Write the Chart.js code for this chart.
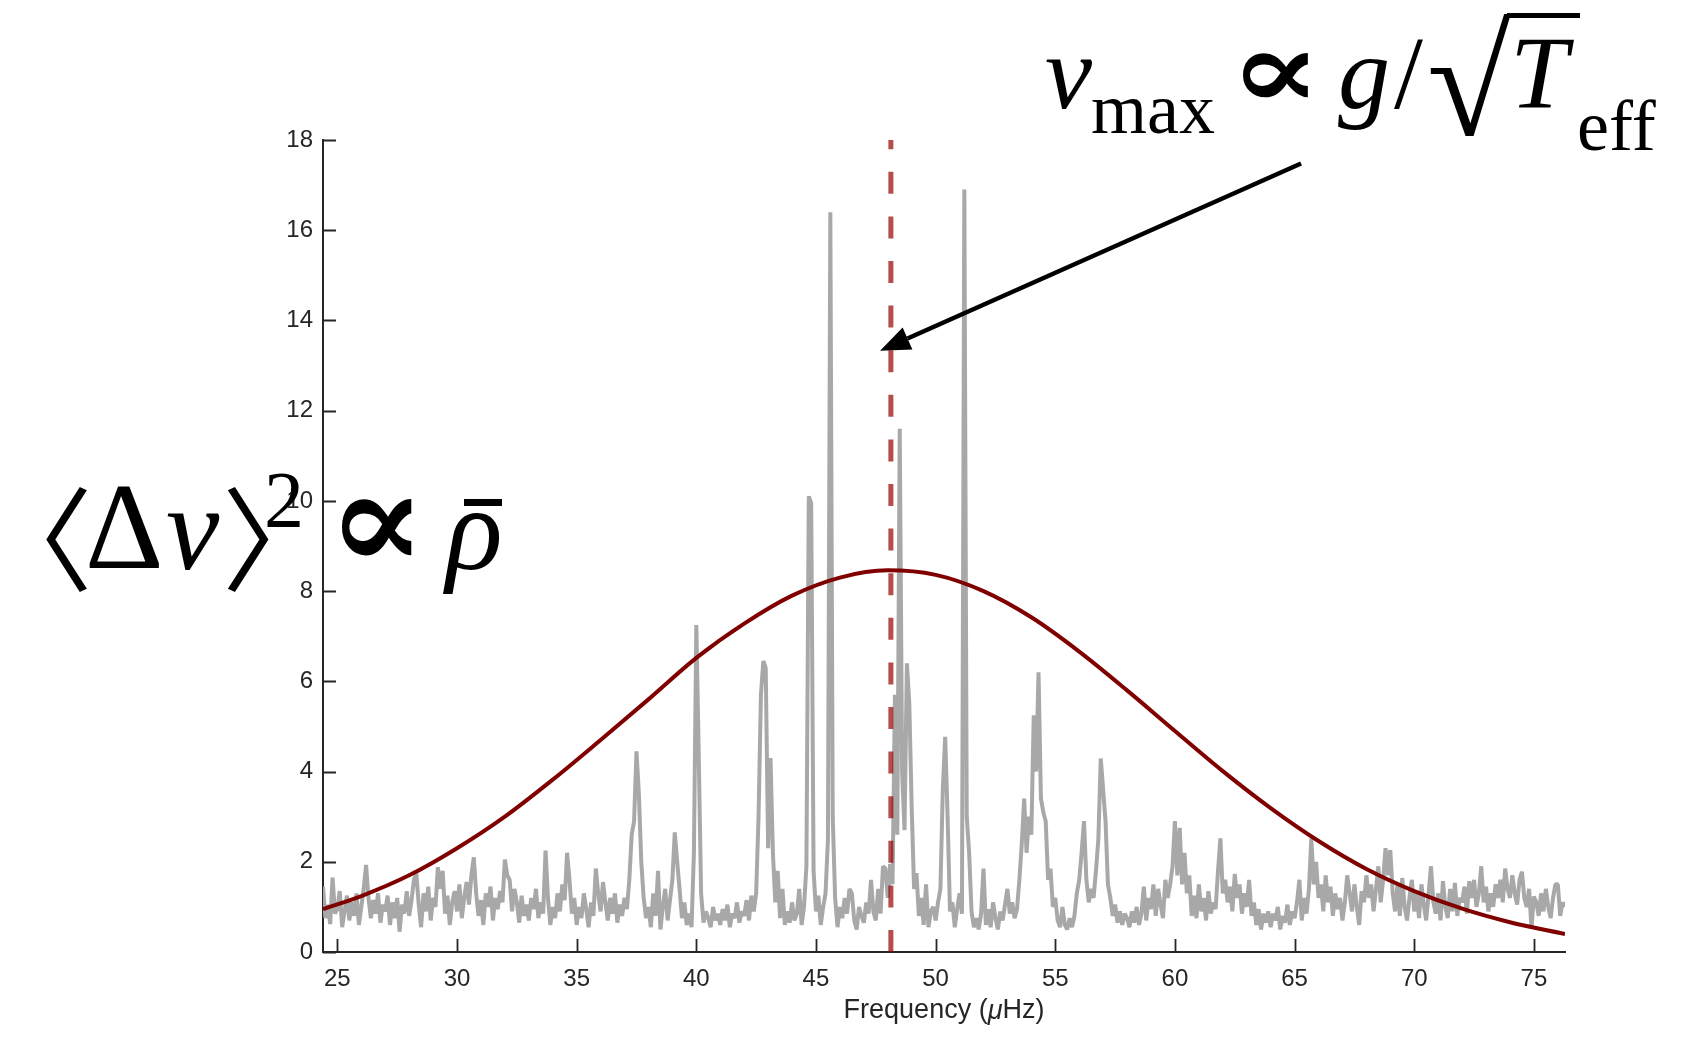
<!DOCTYPE html>
<html>
<head>
<meta charset="utf-8">
<title>Power spectrum with nu_max</title>
<script src="https://cdn.jsdelivr.net/npm/chart.js"></script>
<style>
  html, body { margin: 0; padding: 0; background: #fff; }
  #wrap { position: relative; width: 1692px; height: 1037px; }
</style>
</head>
<body>
<div id="wrap"><canvas id="spectrumChart"></canvas></div>
<script>
// frequency grid of the spectrum (muHz)
const freqStart = 24.4;
const freqStep = 0.1;

// smoothed power spectrum, one row per muHz
const power = [
  1.45, 0.75, 1.05, 0.62, 1.65, 0.85,
  0.95, 1.35, 0.55, 0.9, 1.25, 0.7, 1.1, 0.8, 1.3, 0.6,
  1.0, 1.4, 1.93, 1.2, 0.75, 1.15, 0.85, 1.3, 0.65, 1.05,
  0.9, 1.25, 0.6, 1.1, 0.75, 1.2, 0.45, 1.05, 0.85, 1.35,
  0.8, 1.15, 1.6, 1.74, 1.05, 0.55, 1.3, 0.9, 1.45, 0.7,
  1.2, 1.0, 1.88, 1.4, 1.8, 0.85, 1.25, 0.6, 1.1, 1.35,
  0.9, 1.5, 0.75, 1.2, 1.55, 1.05, 1.7, 2.1, 1.3, 0.8,
  1.15, 0.6, 1.3, 1.0, 1.45, 0.7, 1.2, 0.95, 1.35, 1.1,
  2.05, 1.7, 1.6, 0.9, 1.4, 1.1, 0.65, 1.25, 0.8, 1.05,
  0.7, 1.2, 0.95, 1.4, 0.75, 1.1, 0.85, 2.25, 1.2, 0.6,
  1.0, 0.75, 1.3, 0.9, 1.5, 1.15, 2.2, 1.6, 0.85, 1.2,
  0.6, 1.0, 0.75, 1.3, 0.95, 0.55, 1.1, 0.8, 1.85, 1.3,
  0.9, 1.55, 1.1, 0.7, 1.2, 0.85, 1.3, 0.65, 1.05, 0.8,
  1.2, 0.95, 1.6, 2.6, 2.9, 4.45, 3.5, 2.0, 1.2, 0.75,
  1.0, 0.55, 1.3, 0.8, 1.8, 0.5, 1.0, 1.4, 0.7, 1.15,
  1.6, 2.65, 2.0, 1.4, 0.75, 1.1, 0.6, 0.85, 0.55, 2.2,
  7.25, 4.4, 1.3, 0.65, 0.9, 0.75, 0.55, 1.0, 0.7, 0.85,
  0.6, 0.95, 0.7, 1.05, 0.55, 0.85, 0.75, 1.1, 0.65, 0.9,
  0.8, 1.15, 0.7, 1.25, 0.9, 1.3, 3.0, 5.7, 6.45, 6.3,
  2.3, 4.3, 2.2, 1.1, 1.8, 0.75, 1.4, 0.6, 0.9, 0.65,
  1.1, 0.7, 0.85, 1.4, 0.6, 1.0, 1.9, 10.1, 9.95, 1.8,
  0.9, 1.25, 0.6, 1.0, 1.3, 2.5, 16.4, 3.0, 1.2, 0.55,
  1.0, 0.75, 1.2, 0.85, 1.4, 1.3, 0.7, 0.5, 1.0, 0.8,
  0.65, 1.1, 0.85, 1.6, 0.9, 0.7, 1.4, 0.85, 1.9, 1.85,
  1.2, 1.95, 1.5, 5.7, 2.6, 11.6, 4.0, 2.7, 6.4, 5.5,
  3.2, 1.4, 1.75, 0.8, 1.2, 0.6, 1.5, 0.55, 0.9, 1.0,
  0.7, 1.1, 1.4, 3.6, 4.77, 3.0, 0.9, 1.1, 0.55, 0.95,
  1.3, 0.85, 16.9, 3.0, 2.2, 0.9, 0.55, 0.75, 0.5, 0.85,
  1.85, 0.6, 0.95, 0.55, 1.1, 0.75, 0.5, 0.9, 0.7, 1.05,
  1.4, 0.85, 1.1, 0.75, 0.95, 1.6, 2.4, 3.4, 2.2, 3.0,
  2.6, 5.25, 4.0, 6.2, 3.4, 3.1, 2.9, 1.6, 1.85, 1.0,
  1.2, 0.7, 0.55, 1.0, 0.6, 0.5, 0.75, 0.55, 0.8, 1.3,
  1.6, 2.2, 2.9, 1.6, 1.1, 1.4, 1.2, 1.8, 2.5, 4.29,
  3.6, 2.9, 1.5, 1.2, 0.8, 1.05, 0.65, 0.9, 0.6, 0.85,
  0.75, 0.55, 0.9, 0.65, 1.0, 0.6, 0.85, 1.45, 0.7, 1.2,
  0.95, 1.5, 0.8, 1.4, 1.05, 0.75, 1.6, 1.2, 1.5, 1.9,
  2.9, 1.7, 2.75, 1.5, 2.2, 1.3, 1.7, 0.8, 1.25, 0.75,
  1.5, 0.9, 1.2, 0.7, 1.35, 0.85, 1.1, 0.95, 1.8, 2.52,
  1.3, 1.6, 1.1, 1.45, 0.9, 1.73, 1.2, 1.5, 0.85, 1.3,
  1.0, 1.6, 0.8, 1.1, 0.6, 0.95, 0.5, 0.85, 0.65, 0.9,
  0.55, 0.85, 0.7, 1.0, 0.5, 0.8, 0.65, 1.05, 0.6, 0.9,
  0.75, 1.1, 1.6, 0.7, 1.2, 0.85, 1.4, 2.52, 1.5, 2.0,
  1.2, 1.5, 0.9, 1.7, 1.1, 1.45, 0.8, 1.3, 0.95, 1.2,
  0.7, 1.1, 1.7, 1.3, 0.9, 1.5, 1.0, 0.6, 1.35, 1.1,
  1.7, 1.2, 1.5, 0.9, 1.4, 1.9, 1.1, 1.6, 2.3, 1.7,
  2.26, 1.3, 0.9, 1.5, 0.8, 1.64, 1.0, 0.7, 1.2, 1.6,
  0.9, 1.3, 0.75, 1.5, 1.05, 0.7, 1.3, 1.9, 1.1, 0.85,
  1.3, 0.7, 1.57, 1.0, 0.75, 1.4, 0.9, 1.53, 0.8, 1.2,
  1.1, 1.45, 0.85, 1.57, 1.2, 1.6, 1.0, 1.3, 1.9, 1.1,
  1.45, 0.9, 1.3, 1.0, 1.5, 1.2, 1.6, 1.1, 1.85, 1.4,
  1.2, 1.7, 1.3, 1.05, 1.6, 1.78, 1.2, 1.0, 1.4, 0.52,
  1.23, 1.1, 0.8, 1.3, 0.9, 1.4, 1.0, 0.75, 1.2, 1.5,
  1.5, 0.8, 1.1, 1.0
];

// gaussian envelope of the oscillation excess
const envelopeFreq = [24.4, 26, 28, 30, 32, 34, 36, 38, 40, 42, 44, 46, 48, 50,
  52, 54, 56, 58, 60, 62, 64, 66, 68, 70, 72, 74, 76.3];
const envelopePower = [0.95, 1.24, 1.70, 2.30, 3.00, 3.82, 4.70, 5.60, 6.52, 7.28, 7.90, 8.30, 8.46, 8.36,
  8.00, 7.42, 6.66, 5.80, 4.90, 4.01, 3.19, 2.46, 1.84, 1.35, 0.96, 0.66, 0.40];

// nu_max marker
const numax = 48.13;
const numaxSpan = [0, 18];

// arrow from the nu_max relation down to the marker (data units)
const arrowFrom = [65.27, 17.48];
const arrowTo = [47.68, 13.33];

const xTicks = [25, 30, 35, 40, 45, 50, 55, 60, 65, 70, 75];
const yTicks = [0, 2, 4, 6, 8, 10, 12, 14, 16, 18];

const axisColor = '#262626';
const sansFont = "'Liberation Sans', Helvetica, Arial, sans-serif";
const serifFont = "'Liberation Serif', 'DejaVu Serif', 'Times New Roman', serif";
const bracketFont = "'Noto Sans CJK JP', 'DejaVu Sans', sans-serif";

const spectrumPoints = power.map((p, i) => ({ x: +(freqStart + i * freqStep).toFixed(1), y: p }));
const envelopePoints = envelopeFreq.map((f, i) => ({ x: f, y: envelopePower[i] }));
const numaxPoints = numaxSpan.map(v => ({ x: numax, y: v }));

// MATLAB style ticks pointing into the axes
const inwardTicks = {
  id: 'inwardTicks',
  afterDatasetsDraw(chart) {
    const { ctx, chartArea: a, scales: { x, y } } = chart;
    ctx.save();
    ctx.strokeStyle = axisColor;
    ctx.lineWidth = 1.8;
    ctx.beginPath();
    xTicks.forEach(v => {
      const px = Math.round(x.getPixelForValue(v)) + 0.5;
      ctx.moveTo(px, a.bottom);
      ctx.lineTo(px, a.bottom - 13);
    });
    yTicks.forEach(v => {
      const py = Math.round(y.getPixelForValue(v)) + 0.5;
      ctx.moveTo(a.left, py);
      ctx.lineTo(a.left + 13, py);
    });
    ctx.stroke();
    ctx.restore();
  }
};

// x axis label, with an italic mu
const xLabel = {
  id: 'xLabel',
  afterDraw(chart) {
    const { ctx, chartArea: a } = chart;
    const parts = [['Frequency (', ''], ['μ', 'italic '], ['Hz)', '']];
    ctx.save();
    ctx.fillStyle = axisColor;
    ctx.textBaseline = 'middle';
    ctx.textAlign = 'left';
    let w = 0;
    parts.forEach(([t, st]) => { ctx.font = st + '27px ' + sansFont; w += ctx.measureText(t).width; });
    let cx = (a.left + a.right) / 2 - w / 2;
    parts.forEach(([t, st]) => {
      ctx.font = st + '27px ' + sansFont;
      ctx.fillText(t, cx, 1011);
      cx += ctx.measureText(t).width;
    });
    ctx.restore();
  }
};

// arrow towards nu_max
const numaxArrow = {
  id: 'numaxArrow',
  afterDatasetsDraw(chart) {
    const { ctx, scales: { x, y } } = chart;
    const x0 = x.getPixelForValue(arrowFrom[0]), y0 = y.getPixelForValue(arrowFrom[1]);
    const x1 = x.getPixelForValue(arrowTo[0]), y1 = y.getPixelForValue(arrowTo[1]);
    const ang = Math.atan2(y1 - y0, x1 - x0);
    const headLen = 30, headHalf = 12;
    const bx = x1 - headLen * Math.cos(ang), by = y1 - headLen * Math.sin(ang);
    ctx.save();
    ctx.strokeStyle = '#000';
    ctx.fillStyle = '#000';
    ctx.lineWidth = 4.5;
    ctx.beginPath();
    ctx.moveTo(x0, y0);
    ctx.lineTo(bx, by);
    ctx.stroke();
    ctx.beginPath();
    ctx.moveTo(x1, y1);
    ctx.lineTo(bx + headHalf * Math.sin(ang), by - headHalf * Math.cos(ang));
    ctx.lineTo(bx - headHalf * Math.sin(ang), by + headHalf * Math.cos(ang));
    ctx.closePath();
    ctx.fill();
    ctx.restore();
  }
};

// the two scaling relations written over the plot.
// x is the left edge of the ink; y is the baseline, or top/bottom give the ink box
const formulaPieces = [
  { text: 'ν', x: 1046, y: 108, size: 106, italic: true },
  { text: 'max', x: 1092, y: 133, size: 72 },
  { text: '∝', x: 1243, y: 108, size: 110, bold: true, sx: 1.25 },
  { text: 'g', x: 1338, y: 108, size: 104, italic: true },
  { text: '/', x: 1394, y: 108, size: 104 },
  { text: 'T', x: 1516, y: 108, size: 104, italic: true },
  { text: 'eff', x: 1579, y: 150, size: 72 },
  { text: '〈', x: 46, top: 487, bottom: 593, font: bracketFont },
  { text: 'Δ', x: 89, y: 568, size: 122 },
  { text: 'ν', x: 167, y: 569, size: 120, italic: true },
  { text: '〉', x: 227, top: 487, bottom: 593, font: bracketFont },
  { text: '2', x: 267, y: 527, size: 80 },
  { text: '∝', x: 342, y: 569, size: 140, bold: true, sx: 1.05 },
  { text: 'ρ', x: 443, y: 569, size: 118, italic: true }
];
const radical = { text: '√', x: 1430, top: 13, bottom: 137, barEnd: 1580 };
const rhoBar = { x0: 464, x1: 502, y: 499 };

function fontFor(p, size) {
  return (p.italic ? 'italic ' : '') + (p.bold ? 'bold ' : '') + size + 'px ' + (p.font || serifFont);
}

// draws one piece, returns its ink box
function drawPiece(ctx, p) {
  let size = p.size || 100;
  let y = p.y;
  ctx.font = fontFor(p, size);
  let m = ctx.measureText(p.text);
  if (p.top !== undefined) {
    // fit the glyph height to the given ink box
    const h = m.actualBoundingBoxAscent + m.actualBoundingBoxDescent;
    size = size * (p.bottom - p.top) / h;
    ctx.font = fontFor(p, size);
    m = ctx.measureText(p.text);
    y = p.bottom - m.actualBoundingBoxDescent;
  }
  const sx = p.sx || 1;
  ctx.save();
  ctx.translate(p.x, y);
  ctx.scale(sx, 1);
  ctx.fillText(p.text, m.actualBoundingBoxLeft, 0);
  ctx.restore();
  return {
    left: p.x,
    right: p.x + (m.actualBoundingBoxLeft + m.actualBoundingBoxRight) * sx,
    top: y - m.actualBoundingBoxAscent
  };
}

const formulas = {
  id: 'formulas',
  afterDraw(chart) {
    const ctx = chart.ctx;
    ctx.save();
    ctx.fillStyle = '#000';
    ctx.textBaseline = 'alphabetic';
    ctx.textAlign = 'left';
    formulaPieces.forEach(p => drawPiece(ctx, p));
    const box = drawPiece(ctx, radical);
    ctx.fillRect(box.right - 4, box.top, radical.barEnd - box.right + 4, 5);
    ctx.fillRect(rhoBar.x0, rhoBar.y, rhoBar.x1 - rhoBar.x0, 7);
    ctx.restore();
  }
};

const ctx = document.getElementById('spectrumChart').getContext('2d');
new Chart(ctx, {
  type: 'line',
  data: {
    datasets: [
      {
        label: 'nu_max',
        data: numaxPoints,
        borderColor: 'rgba(153, 0, 0, 0.7)',
        borderWidth: 5,
        borderDash: [22, 22.6],
        borderCapStyle: 'butt',
        pointRadius: 0,
        order: 1
      },
      {
        label: 'Envelope',
        data: envelopePoints,
        borderColor: '#800000',
        borderWidth: 4,
        cubicInterpolationMode: 'monotone',
        pointRadius: 0,
        order: 2
      },
      {
        label: 'Power',
        data: spectrumPoints,
        borderColor: 'rgb(168, 168, 168)',
        borderWidth: 4,
        borderJoinStyle: 'bevel',
        tension: 0,
        pointRadius: 0,
        order: 3
      }
    ]
  },
  options: {
    responsive: true,
    maintainAspectRatio: false,
    animation: false,
    layout: { padding: { top: 140, right: 127, left: 0, bottom: 0 } },
    plugins: {
      legend: { display: false },
      tooltip: { enabled: false }
    },
    scales: {
      x: {
        type: 'linear',
        min: 24.4,
        max: 76.3,
        afterFit: s => { s.height = 85; },
        afterBuildTicks: s => { s.ticks = xTicks.map(v => ({ value: v })); },
        grid: { display: false, drawTicks: false },
        border: { display: true, color: axisColor, width: 2 },
        ticks: { padding: 13, color: axisColor, font: { family: sansFont, size: 24 } }
      },
      y: {
        min: 0,
        max: 18,
        afterFit: s => { s.width = 323; },
        afterBuildTicks: s => { s.ticks = yTicks.map(v => ({ value: v })); },
        grid: { display: false, drawTicks: false },
        border: { display: true, color: axisColor, width: 2 },
        ticks: { padding: 10, color: axisColor, font: { family: sansFont, size: 24 } }
      }
    }
  },
  plugins: [inwardTicks, numaxArrow, xLabel, formulas]
});
</script>
</body>
</html>
